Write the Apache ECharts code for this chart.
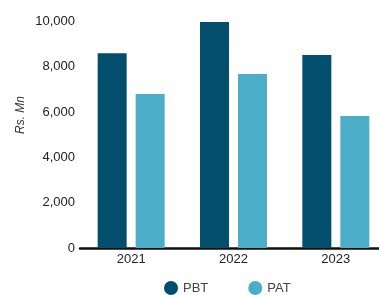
<!DOCTYPE html>
<html>
<head>
<meta charset="utf-8">
<script src="https://cdn.jsdelivr.net/npm/echarts@6/dist/echarts.min.js"></script>
<style>
    html, body { margin: 0; padding: 0; background: #fff; }
    #chart { width: 379px; height: 295px; }
</style>
</head>
<body>
<div id="chart"></div>
<script>
var years = [ '2021', '2022', '2023' ];
var pbt = [ 8600, 9980, 8520 ];
var pat = [ 6800, 7680, 5830 ];
var yTicks = { min: 0, max: 10000, step: 2000 };

var chart = echarts.init( document.getElementById( "chart" ) );

var option = {
    animation: false,
    textStyle: { fontFamily: 'Liberation Sans, Arial, sans-serif' },
    grid: {
        left: 80,
        width: 307,
        top: 21.5,
        bottom: 47,
        outerBoundsMode: 'none'
    },
    legend: {
        top: 276,
        left: 159,
        icon: 'circle',
        itemWidth: 14,
        itemHeight: 14,
        itemGap: 40,
        textStyle: { fontSize: 13, color: '#444' },
        data: [ 'PBT', 'PAT' ]
    },
    graphic: [ {
        type: 'text',
        x: 21,
        y: 115,
        rotation: Math.PI / 2,
        style: {
            text: 'Rs. Mn',
            fontSize: 12,
            fontStyle: 'italic',
            fill: '#333',
            align: 'center',
            verticalAlign: 'middle'
        }
    } ],
    xAxis: {
        type: 'category',
        data: years,
        axisLine: { lineStyle: { color: '#111', width: 2.5 } },
        axisTick: { show: false },
        axisLabel: { fontSize: 13, color: '#222', margin: 5 }
    },
    yAxis: {
        type: 'value',
        min: yTicks.min,
        max: yTicks.max,
        interval: yTicks.step,
        splitLine: { show: false },
        axisLine: { show: false },
        axisTick: { show: false },
        axisLabel: {
            fontSize: 13,
            color: '#222',
            margin: 5,
            formatter: function ( v ) { return v.toLocaleString( 'en-US' ); }
        }
    },
    series: [ {
        name: 'PBT',
        type: 'bar',
        data: pbt,
        barWidth: 29,
        barGap: '31%',
        itemStyle: { color: '#034e6c' }
    }, {
        name: 'PAT',
        type: 'bar',
        data: pat,
        barWidth: 29,
        itemStyle: { color: '#4badc7' }
    } ]
};

chart.setOption( option, true );
</script>
</body>
</html>
